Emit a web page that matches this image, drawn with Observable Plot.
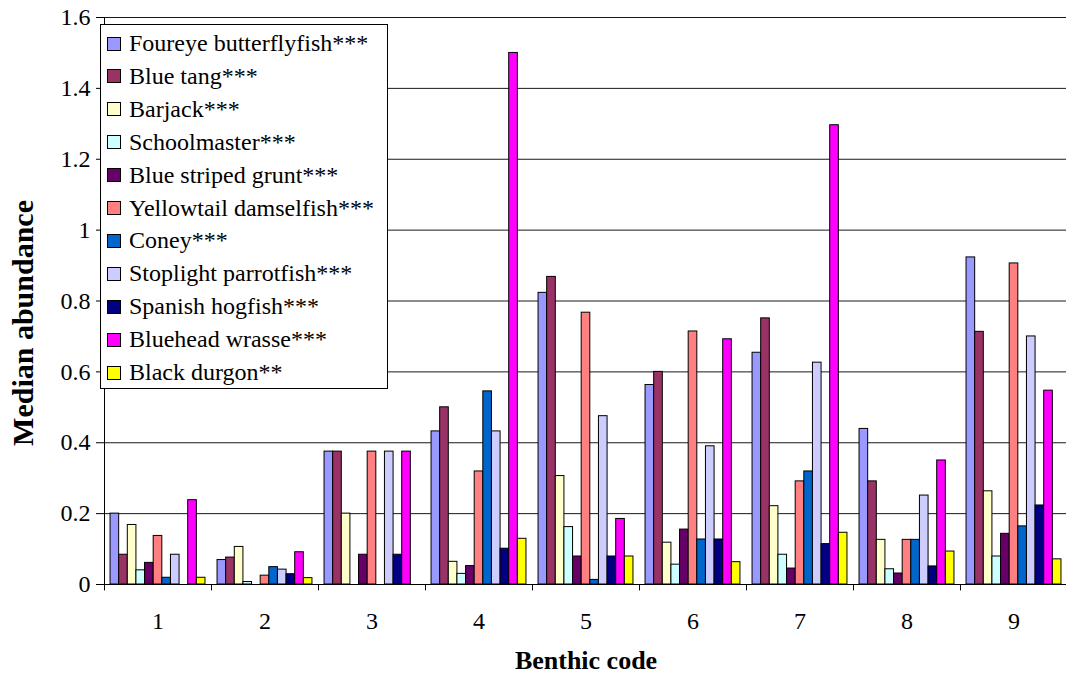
<!DOCTYPE html>
<html>
<head>
<meta charset="utf-8">
<script src="https://cdn.jsdelivr.net/npm/d3@7"></script>
<script src="https://cdn.jsdelivr.net/npm/@observablehq/plot@0.6"></script>
<style>
  body { margin: 0; background: #fff; }
  #wrap { position: relative; width: 1066px; height: 676px; overflow: hidden; }
  #legend { position: absolute; left: 100px; top: 24px; width: 288px; height: 365px;
            border: 1px solid #000; background: #fff; box-sizing: border-box;
            font-family: "Liberation Serif", "Times New Roman", Tinos, "DejaVu Serif", serif; font-size: 24px; color: #000; }
  .row { position: absolute; left: 6px; height: 33px; display: flex; align-items: center; white-space: nowrap; }
  .sw { width: 14px; height: 14px; border: 1px solid #000; box-sizing: border-box; margin-right: 8px; flex: none; }
</style>
</head>
<body>
<div id="wrap"><div id="legend"></div></div>
<script>
// Categories
const groups = ["1", "2", "3", "4", "5", "6", "7", "8", "9"];
const species = [
  "Foureye butterflyfish***", "Blue tang***", "Barjack***", "Schoolmaster***",
  "Blue striped grunt***", "Yellowtail damselfish***", "Coney***",
  "Stoplight parrotfish***", "Spanish hogfish***", "Bluehead wrasse***", "Black durgon**"
];
const colors = ["#9999FF", "#993366", "#FFFFCC", "#CCFFFF", "#660066", "#FF8080",
                "#0066CC", "#CCCCFF", "#000080", "#FF00FF", "#FFFF00"];

// Series values (benthic codes 1..9)
const foureye      = [0.200, 0.069, 0.375, 0.432, 0.823, 0.563, 0.654, 0.439, 0.923];
const blueTang     = [0.084, 0.076, 0.375, 0.500, 0.868, 0.600, 0.751, 0.291, 0.713];
const barjack      = [0.168, 0.106, 0.200, 0.064, 0.306, 0.118, 0.221, 0.126, 0.263];
const schoolmaster = [0.040, 0.007, 0.000, 0.030, 0.162, 0.056, 0.084, 0.043, 0.079];
const blueStriped  = [0.061, 0.000, 0.084, 0.052, 0.079, 0.155, 0.045, 0.031, 0.143];
const yellowtail   = [0.137, 0.025, 0.375, 0.319, 0.767, 0.714, 0.291, 0.126, 0.906];
const coney        = [0.019, 0.049, 0.000, 0.545, 0.013, 0.127, 0.319, 0.126, 0.164];
const stoplight    = [0.084, 0.042, 0.375, 0.432, 0.475, 0.390, 0.626, 0.251, 0.700];
const spanish      = [0.000, 0.029, 0.084, 0.101, 0.079, 0.127, 0.114, 0.051, 0.223];
const bluehead     = [0.238, 0.091, 0.375, 1.500, 0.185, 0.692, 1.296, 0.350, 0.547];
const blackDurgon  = [0.019, 0.018, 0.000, 0.129, 0.079, 0.063, 0.146, 0.093, 0.071];

// Tick labels
const yTicks = [0, 0.2, 0.4, 0.6, 0.8, 1.0, 1.2, 1.4, 1.6];
const xTitle = "Benthic code";
const yTitle = "Median abundance";

const series = [foureye, blueTang, barjack, schoolmaster, blueStriped, yellowtail,
                coney, stoplight, spanish, bluehead, blackDurgon];

const rows = [];
series.forEach((vals, si) => vals.forEach((v, gi) => {
  rows.push({group: groups[gi], species: species[si], idx: si, value: v});
}));

const xDomain = [-0.7, species.length + 0.7];
const fmt = d3.format("~g");
const serif = "'Liberation Serif', 'Times New Roman', Tinos, 'DejaVu Serif', serif";

const chart = Plot.plot({
  width: 1066,
  height: 676,
  marginTop: 17,
  marginBottom: 92,
  marginLeft: 100,
  marginRight: -5,
  style: {fontFamily: serif, fontSize: "24px", color: "#000", background: "#fff"},
  fx: {domain: groups, padding: 0, label: null},
  x: {domain: xDomain, axis: null},
  y: {domain: [0, 1.6], axis: null},
  color: {domain: species, range: colors},
  marks: [
    Plot.gridY(yTicks.filter(t => t > 0), {stroke: "#000", strokeOpacity: 0.9, strokeWidth: 1}),
    Plot.rectY(rows.filter(d => d.value > 0), {
      fx: "group", x1: "idx", x2: d => d.idx + 1, y: "value",
      fill: "species", stroke: "#000", strokeWidth: 1
    }),
    Plot.ruleY([0], {stroke: "#000"}),
    Plot.ruleX(groups, {
      fx: d => d, x: () => xDomain[0],
      y1: () => -0.018, y2: d => d === groups[0] ? 1.6 : 0,
      stroke: "#000"
    }),
    Plot.axisY({ticks: yTicks, tickFormat: fmt, tickSize: 8, tickPadding: 6, fontSize: 24, label: null, stroke: "#000"}),
    Plot.axisFx({anchor: "bottom", tickSize: 0, tickPadding: 27, fontSize: 24, label: null}),
    Plot.text([xTitle], {frameAnchor: "bottom", dy: 76, lineAnchor: "middle", textAnchor: "middle",
      fontWeight: "bold", fontSize: 26, facet: "super"}),
    Plot.text([yTitle], {frameAnchor: "left", rotate: -90, dx: -81, dy: 22, lineAnchor: "middle", textAnchor: "middle",
      fontWeight: "bold", fontSize: 30, facet: "super"})
  ]
});

const wrap = document.getElementById("wrap");
wrap.insertBefore(chart, wrap.firstChild);

const legend = document.getElementById("legend");
species.forEach((s, i) => {
  const row = document.createElement("div");
  row.className = "row";
  row.style.top = (2 + i * 32.9) + "px";
  const sw = document.createElement("div");
  sw.className = "sw";
  sw.style.background = colors[i];
  const tx = document.createElement("span");
  tx.textContent = s;
  row.appendChild(sw);
  row.appendChild(tx);
  legend.appendChild(row);
});
</script>
</body>
</html>
